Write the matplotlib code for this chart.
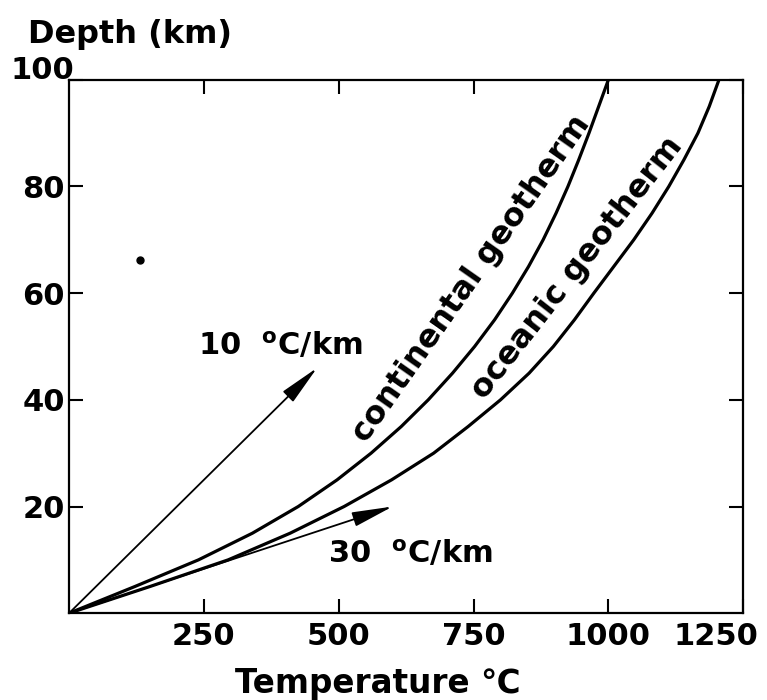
import matplotlib.pyplot as plt
import matplotlib.transforms as mtransforms

plt.rcParams['font.family'] = ['DejaVu Sans']
plt.rcParams['font.weight'] = 'bold'
plt.rcParams['mathtext.default'] = 'regular'

#==============================================================================
# Data (temperature in degC, depth in km)
#==============================================================================
cont_depth = [0, 5, 10, 15, 20, 25, 30, 35, 40, 45, 50, 55, 60, 65, 70, 75, 80, 85, 90, 95, 100]
cont_temp = [0, 122, 240, 340, 425, 497, 560, 616, 666, 711, 752, 789, 822, 852, 879, 903, 925, 945, 964, 982, 1000]

ocean_depth = [0, 5, 10, 15, 20, 25, 30, 35, 40, 45, 50, 55, 60, 65, 70, 75, 80, 85, 90, 95, 100]
ocean_temp = [0, 150, 295, 410, 510, 598, 676, 740, 800, 853, 898, 937, 973, 1010, 1047, 1081, 1112, 1140, 1166, 1187, 1205]

grad10_temp = [0, 460]
grad10_depth = [0, 46]
grad30_temp = [0, 600]
grad30_depth = [0, 20]

xticks = [250, 500, 750, 1000, 1250]
yticks = [20, 40, 60, 80, 100]

#==============================================================================
# Figure
#==============================================================================
fig = plt.figure(figsize=(7.67, 7.0), dpi=100)
ax = fig.add_axes([0.090, 0.124, 0.879, 0.762])

ax.plot(cont_temp, cont_depth, color='black', lw=2.3, solid_capstyle='butt')
ax.plot(ocean_temp, ocean_depth, color='black', lw=2.3, solid_capstyle='butt')

arrow = dict(arrowstyle='-|>,head_length=0.9,head_width=0.16', color='black',
             lw=1.3, mutation_scale=28, shrinkA=0, shrinkB=0)
ax.annotate('', xy=(grad10_temp[1], grad10_depth[1]), xytext=(grad10_temp[0], grad10_depth[0]),
            arrowprops=arrow)
ax.annotate('', xy=(grad30_temp[1], grad30_depth[1]), xytext=(grad30_temp[0], grad30_depth[0]),
            arrowprops=arrow)

ax.text(239, 48.4, r'10  $^{o}$C/km', fontsize=22, ha='left', va='baseline')
ax.text(480, 9.4, r'30  $^{o}$C/km', fontsize=22, ha='left', va='baseline')

ax.text(770, 61, 'continental geotherm', fontsize=23, rotation=55,
        rotation_mode='anchor', ha='center', va='bottom')
ax.text(965, 63, 'oceanic geotherm', fontsize=23, rotation=52,
        rotation_mode='anchor', ha='center', va='bottom')

# speck on the original scan
ax.plot([131], [66.2], 'o', color='black', ms=5)

ax.set_xlim(0, 1250)
ax.set_ylim(0, 100)
ax.set_xticks(xticks)
ax.set_yticks(yticks)
ax.tick_params(direction='in', length=10, width=1.5, labelsize=22,
               top=True, right=True)
ax.tick_params(axis='x', pad=6)
ax.tick_params(axis='y', pad=3)
for s in ax.spines.values():
    s.set_linewidth(1.6)

# the 1250 label sits left of the corner, 100 sits above the corner
for lab in ax.get_xticklabels():
    if lab.get_text() == '1250':
        lab.set_transform(lab.get_transform() +
                          mtransforms.ScaledTranslation(-0.27, 0, fig.dpi_scale_trans))
for lab in ax.get_yticklabels():
    if lab.get_text() == '100':
        lab.set_transform(lab.get_transform() +
                          mtransforms.ScaledTranslation(0.09, 0.12, fig.dpi_scale_trans))

ax.set_xlabel('Temperature \u2103', fontsize=23.5, fontweight='bold')
ax.xaxis.set_label_coords(0.458, -0.10)
fig.text(28 / 767, 1 - 43 / 700, 'Depth (km)', fontsize=23, ha='left', va='baseline')

fig.savefig('out.png', dpi=100)
